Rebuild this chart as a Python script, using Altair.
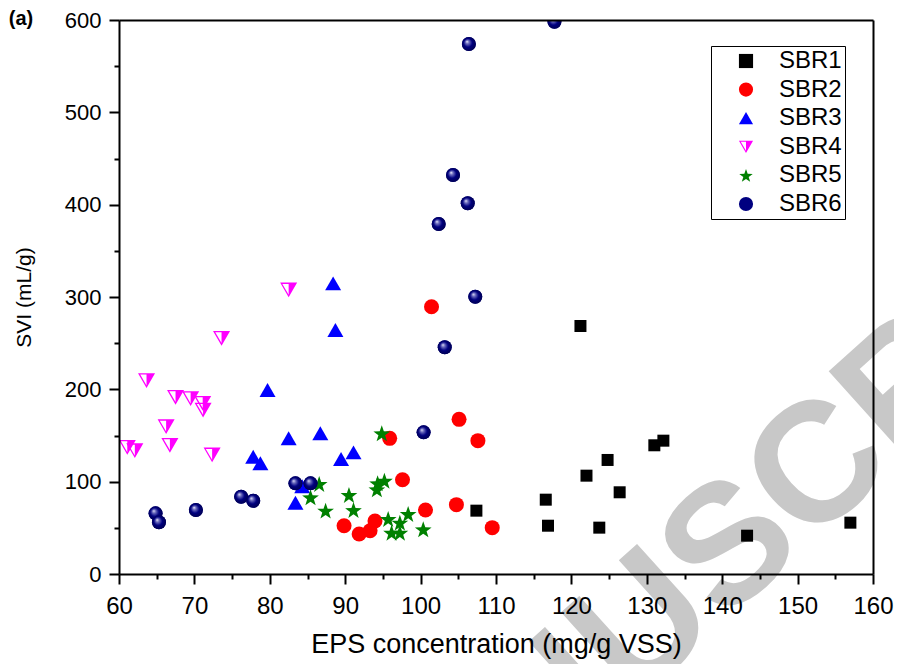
import math
import altair as alt
import pandas as pd

FONT = "Liberation Sans"

series_names = ["SBR1", "SBR2", "SBR3", "SBR4", "SBR5", "SBR6"]
series_colors = ["#000000", "#ff0000", "#0000ff", "#ff00ff", "#008000", "#000080"]

sbr1_x = [121.2, 131.0, 132.2, 124.8, 122.0, 126.4, 116.6, 116.9, 123.7, 143.3, 157.0, 107.4]
sbr1_y = [268.6, 139.4, 144.4, 123.5, 106.5, 88.5, 80.5, 52.3, 50.2, 41.5, 55.6, 68.6]
sbr2_x = [105.1, 107.6, 95.9, 97.6, 104.75, 100.65, 109.5, 89.85, 91.85, 93.3, 93.95, 101.45]
sbr2_y = [167.5, 144.4, 146.9, 102.1, 75.1, 69.3, 50.2, 52.3, 43.3, 46.9, 57.4, 289.5]
sbr3_x = [88.4, 88.7, 79.7, 82.5, 86.7, 77.8, 78.75, 89.45, 91.1, 83.4, 84.3]
sbr3_y = [314.8, 264.3, 199.3, 147.0, 152.4, 127.0, 119.9, 124.6, 131.8, 77.2, 95.0]
sbr4_x = [82.5, 73.6, 63.65, 67.5, 69.5, 71.1, 71.15, 66.25, 66.75, 61.1, 62.1, 72.35]
sbr4_y = [307.6, 255.3, 209.4, 191.4, 189.9, 184.9, 177.6, 159.5, 139.4, 137.2, 133.5, 128.9]
sbr5_x = [94.85, 94.3, 95.2, 94.2, 90.5, 91.1, 87.4, 95.7, 97.25, 98.35, 96.15, 97.25, 100.35, 86.55, 85.4]
sbr5_y = [152.4, 98.2, 101.0, 91.7, 85.6, 69.3, 68.6, 59.6, 55.6, 65.0, 44.7, 44.7, 48.4, 97.5, 83.0]
sbr6_x = [117.75, 106.4, 104.3, 106.25, 102.4, 107.25, 103.2, 100.4, 83.4, 85.4, 76.2, 77.8, 70.2, 64.85, 65.3]
sbr6_y = [598.0, 574.0, 432.1, 401.5, 379.0, 300.3, 245.5, 153.4, 98.2, 98.2, 83.7, 79.4, 69.3, 65.7, 56.0]

x_ticks = list(range(60, 161, 10))
x_minor = list(range(65, 160, 10))
y_ticks = list(range(0, 601, 100))
y_minor = list(range(50, 600, 100))

all_x = [sbr1_x, sbr2_x, sbr3_x, sbr4_x, sbr5_x, sbr6_x]
all_y = [sbr1_y, sbr2_y, sbr3_y, sbr4_y, sbr5_y, sbr6_y]
rows = []
for name, xs_, ys_ in zip(series_names, all_x, all_y):
    for a, b in zip(xs_, ys_):
        rows.append({"series": name, "eps": a, "svi": b})
df = pd.DataFrame(rows)

# half-filled down triangle (outline ring + right half)
SBR4_PATH = ("M-1,-0.866L1,-0.866L0,0.866Z"
             "M-0.74,-0.716L0,0.566L0.74,-0.716Z"
             "M0,-0.866L1,-0.866L0,0.866Z")
# five-point star
pts = []
for i in range(10):
    r = 1.0 if i % 2 == 0 else 0.4
    a = math.radians(-90 + 36 * i)
    pts.append((r * math.cos(a), r * math.sin(a) + 0.095))
STAR_PATH = "M" + "L".join(f"{px:.3f},{py:.3f}" for px, py in pts) + "Z"

shapes = ["square", "circle", "triangle-up", SBR4_PATH, STAR_PATH, "circle"]
sizes = [144, 225, 256, 290, 310, 196]

xs = alt.Scale(domain=[60, 160], nice=False, zero=False)
ys = alt.Scale(domain=[0, 600], nice=False, zero=False)

common = dict(grid=False, zindex=1, tickColor="black", domainColor="black",
              labelColor="black", titleColor="black", labelFont=FONT, titleFont=FONT,
              titleFontWeight="normal", labelFlush=False, labelOverlap=False)

x_major = alt.Axis(orient="bottom", values=x_ticks, tickSize=10, tickWidth=2, domainWidth=2,
                   labelFontSize=24, labelPadding=10, title="EPS concentration (mg/g VSS)",
                   titleFontSize=27, titleX=377, titleY=57, **common)
y_major = alt.Axis(orient="left", values=y_ticks, tickSize=10, tickWidth=2, domainWidth=2,
                   labelFontSize=22, labelPadding=8, title="SVI (mL/g)",
                   titleFontSize=21, titleX=-85, titleY=277, **common)
x_min_ax = alt.Axis(orient="bottom", values=x_minor, tickSize=5, tickWidth=2, domain=False,
                    labels=False, title=None, **common)
y_min_ax = alt.Axis(orient="left", values=y_minor, tickSize=5, tickWidth=2, domain=False,
                    labels=False, title=None, **common)
x_top = alt.Axis(orient="top", ticks=False, labels=False, domainWidth=2, title=None, **common)
y_right = alt.Axis(orient="right", ticks=False, labels=False, domainWidth=2, title=None, **common)

legend = alt.Legend(title=None, orient="none", legendX=592, legendY=26, strokeColor="black",
                    padding=3, labelFont=FONT, labelFontSize=24, symbolSize=200,
                    labelColor="black", rowPadding=4.6, symbolOffset=20, labelOffset=21,
                    symbolStrokeWidth=0, fillColor="white")

size_rule = alt.SizeValue(
    value=sizes[-1],
    condition=[{"test": f"datum.series === '{n}'", "value": s}
               for n, s in zip(series_names[:-1], sizes[:-1])],
)

base = alt.Chart(df)

points = base.mark_point(filled=True, opacity=1, strokeWidth=0, clip=True).encode(
    x=alt.X("eps:Q", scale=xs, axis=x_major),
    y=alt.Y("svi:Q", scale=ys, axis=y_major),
    color=alt.Color("series:N", scale=alt.Scale(domain=series_names, range=series_colors), legend=legend),
    shape=alt.Shape("series:N", scale=alt.Scale(domain=series_names, range=shapes), legend=legend),
    size=size_rule,
)

minor = base.mark_point(opacity=0).encode(
    x=alt.X("eps:Q", scale=xs, axis=x_min_ax),
    y=alt.Y("svi:Q", scale=ys, axis=y_min_ax),
)

grad = alt.RadialGradient(
    gradient="radial", x1=0.36, y1=0.32, r1=0.0, x2=0.5, y2=0.5, r2=0.55,
    stops=[alt.GradientStop(offset=0, color="#f0f0ff"),
           alt.GradientStop(offset=0.22, color="#7070c0"),
           alt.GradientStop(offset=0.55, color="#000080"),
           alt.GradientStop(offset=1, color="#00004a")])

spheres = base.transform_filter(alt.datum.series == "SBR6").mark_point(
    shape="circle", size=sizes[-1], filled=True, fill=grad, strokeWidth=0, opacity=1, clip=True
).encode(
    x=alt.X("eps:Q", scale=xs, axis=x_top),
    y=alt.Y("svi:Q", scale=ys, axis=y_right),
)

wm = alt.Chart(pd.DataFrame({"t": ["MANUSCRIPT"]})).mark_text(
    font=FONT, fontWeight="bold", fontSize=170, color="#c8c8c8", angle=318,
    align="center", baseline="middle"
).encode(text="t:N", x=alt.value(612), y=alt.value(528))

lab = alt.Chart(pd.DataFrame({"t": ["(a)"]})).mark_text(
    font=FONT, fontWeight="bold", fontSize=20, align="center", baseline="middle", color="black"
).encode(text="t:N", x=alt.value(-98), y=alt.value(-1))

chart = alt.layer(wm, points, minor, spheres, lab).resolve_axis(
    x="independent", y="independent"
).properties(
    width=754, height=554,
    autosize=alt.AutoSizeParams(type="none"),
    padding={"left": 111, "top": 12, "right": 21, "bottom": 90},
).configure_view(stroke=None).configure_legend(strokeWidth=1)

chart.save("out.html", embed_options={"renderer": "svg", "actions": False})
